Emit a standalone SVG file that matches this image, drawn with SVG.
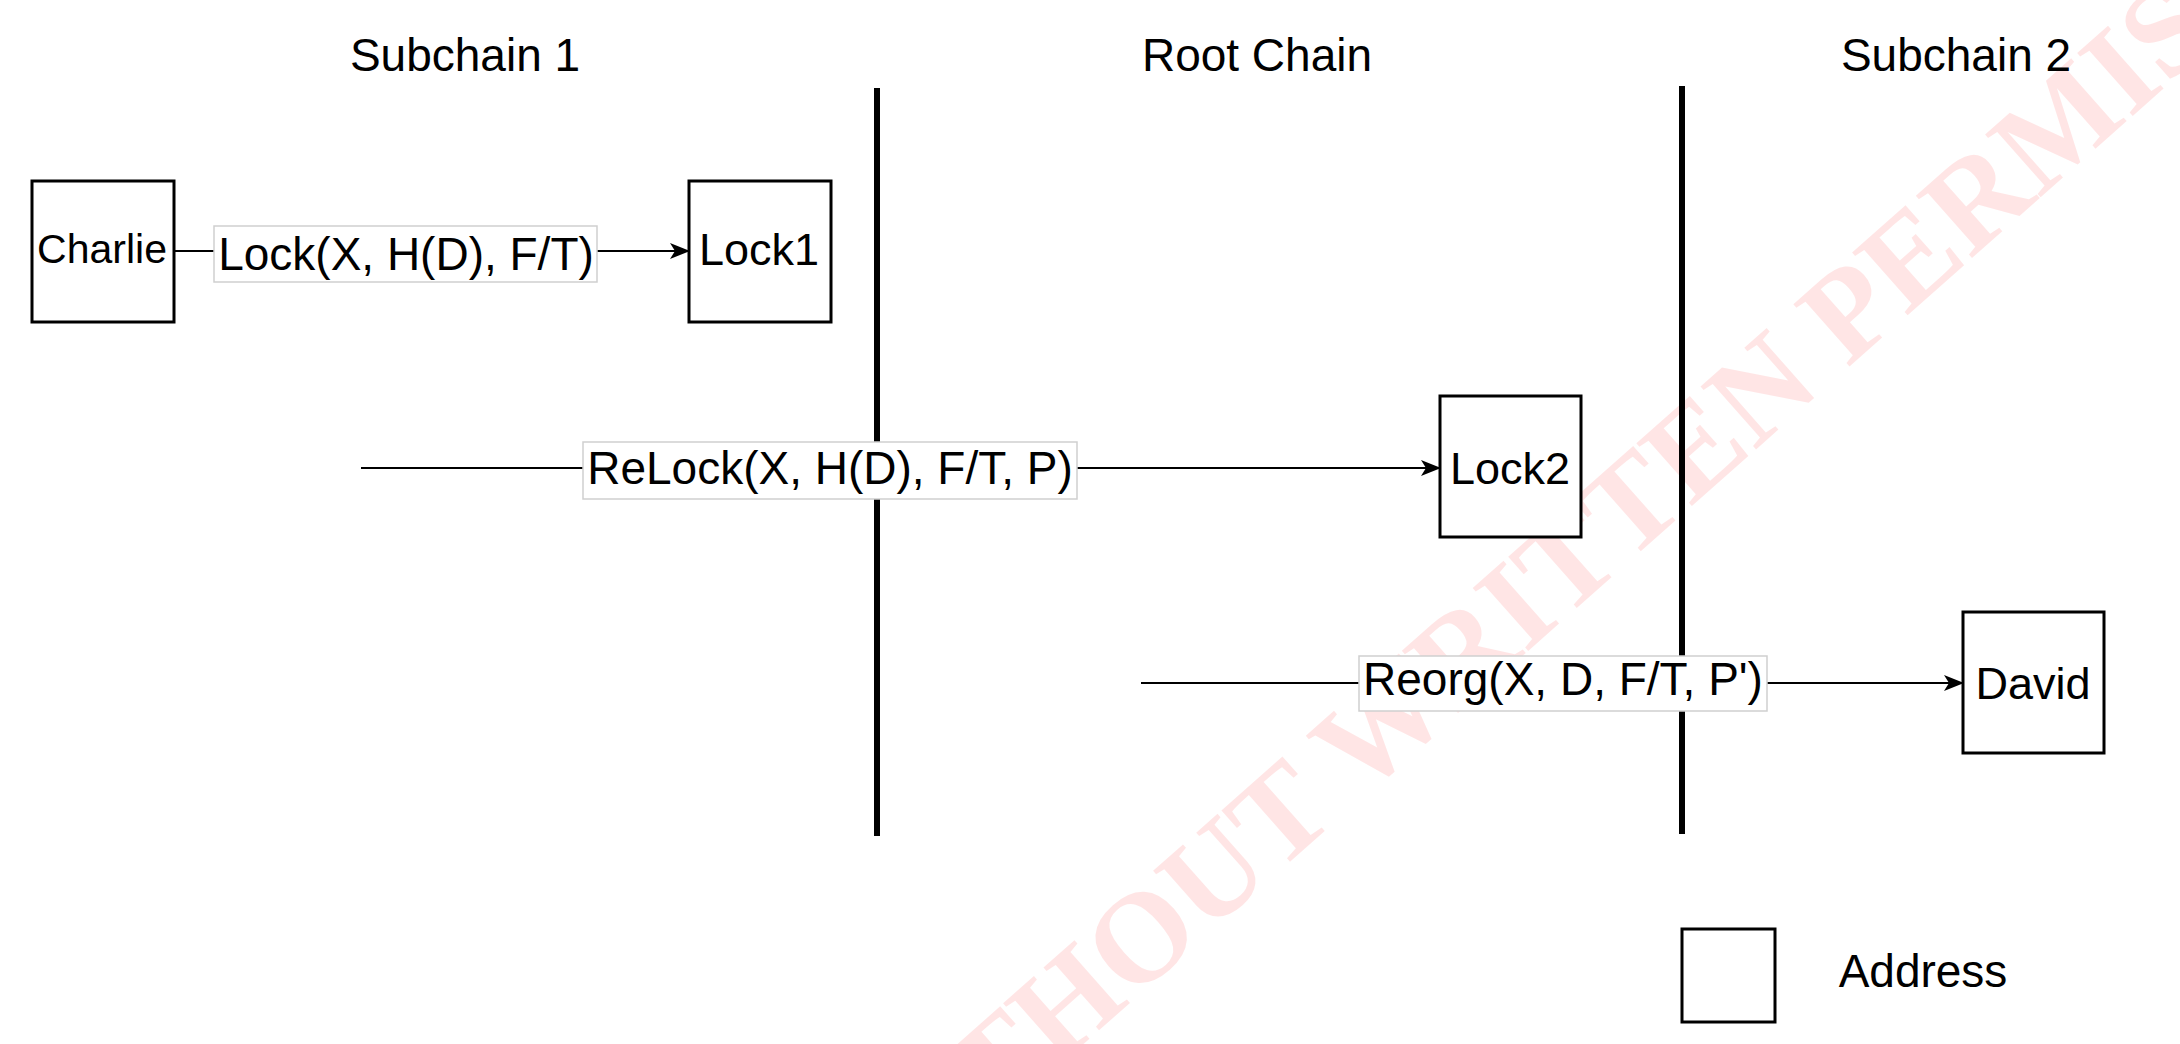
<svg xmlns="http://www.w3.org/2000/svg" width="2180" height="1044" viewBox="0 0 2180 1044">
<defs>
<style>
text{font-family:"Liberation Sans",Arial,Helvetica,sans-serif;fill:#000}
.title{font-size:46px;text-anchor:middle}
.node rect{fill:#fff;stroke:#000;stroke-width:3}
.node text{font-size:45px;text-anchor:middle}
.edge line{stroke:#000;stroke-width:2}
.lbl rect{fill:#fff;stroke:#cfcfcf;stroke-width:1.5}
.lbl text{font-size:46px;text-anchor:middle}
.lane{stroke:#000;stroke-width:6}
.wm{font-family:"Liberation Serif","Times New Roman",serif;font-size:128px;font-weight:bold;fill:#ff0000;fill-opacity:0.1}
</style>
<marker id="arr" viewBox="0 0 20 16" refX="19" refY="8" markerWidth="20" markerHeight="16" markerUnits="userSpaceOnUse" orient="auto">
<path d="M0,0 L20,8 L0,16 L5,8 Z" fill="#000"/>
</marker>
</defs>
<rect width="2180" height="1044" fill="#fff"/>
<g id="watermark">
<text class="wm" transform="translate(860,1242) rotate(-41.5)">WITHOUT WRITTEN PERMISSION</text>
</g>
<g id="titles">
<text class="title" x="465" y="71">Subchain 1</text>
<text class="title" x="1257" y="71">Root Chain</text>
<text class="title" x="1956" y="71">Subchain 2</text>
</g>
<g id="lanes">
<line class="lane" x1="877" y1="88" x2="877" y2="836"/>
<line class="lane" x1="1682" y1="86" x2="1682" y2="834"/>
</g>
<g id="connectors" class="edge">
<line x1="174" y1="251" x2="689" y2="251" marker-end="url(#arr)"/>
<line x1="361" y1="468" x2="1440" y2="468" marker-end="url(#arr)"/>
<line x1="1141" y1="683" x2="1963" y2="683" marker-end="url(#arr)"/>
<g class="lbl">
<rect x="214" y="226" width="383" height="56"/>
<text x="406" y="270">Lock(X, H(D), F/T)</text>
<rect x="583" y="442" width="494" height="57"/>
<text x="830" y="484">ReLock(X, H(D), F/T, P)</text>
<rect x="1359" y="656" width="408" height="55"/>
<text x="1563" y="695">Reorg(X, D, F/T, P')</text>
</g>
</g>
<g id="charlie" class="node">
<rect x="32" y="181" width="142" height="141"/>
<text x="102" y="263" style="font-size:41px">Charlie</text>
</g>
<g id="lock1" class="node">
<rect x="689" y="181" width="142" height="141"/>
<text x="759" y="265">Lock1</text>
</g>
<g id="lock2" class="node">
<rect x="1440" y="396" width="141" height="141"/>
<text x="1510" y="484">Lock2</text>
</g>
<g id="david" class="node">
<rect x="1963" y="612" width="141" height="141"/>
<text x="2033" y="699">David</text>
</g>
<g id="legend" class="node">
<rect x="1682" y="929" width="93" height="93"/>
<text x="1923" y="987" style="font-size:46px">Address</text>
</g>
</svg>
